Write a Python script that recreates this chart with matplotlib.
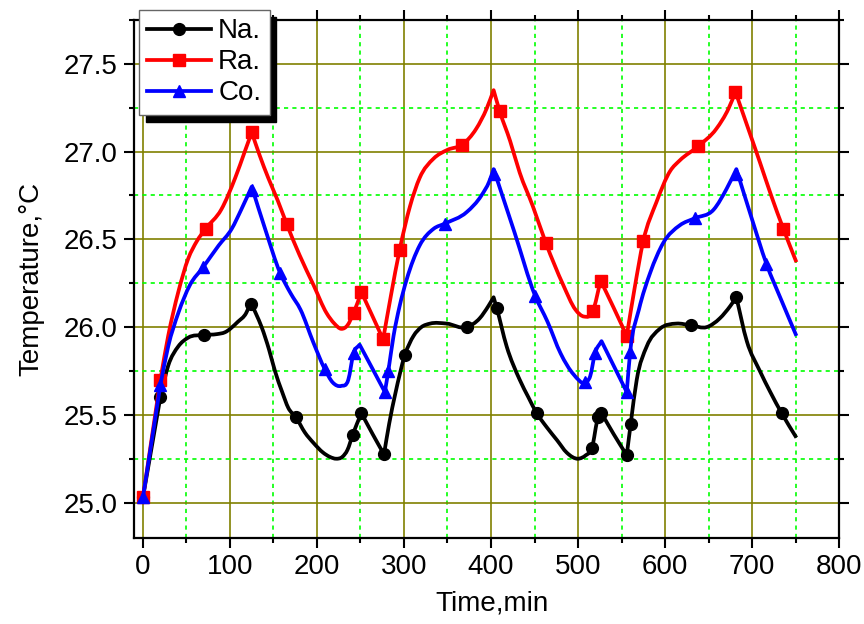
import matplotlib
matplotlib.use("Agg")
import matplotlib.pyplot as plt
from matplotlib.lines import Line2D
from matplotlib.path import Path
from matplotlib.patches import PathPatch
from matplotlib.ticker import MultipleLocator, FormatStrFormatter

plt.rcParams["font.family"] = ["Liberation Sans", "DejaVu Sans"]

# Na. -- traced curve, sharp corners, and the measured points carrying markers
na_t = [0, 20, 29, 40.6, 52, 70, 85, 94, 109, 118.6, 124, 130, 136.4, 145, 151.7, 160, 167,
        176, 186, 196, 207, 215, 222, 229, 235, 241, 246, 251, 264, 277, 283, 290, 301,
        311, 320, 330, 349, 372, 387, 397, 403, 406.5, 418, 433, 443, 452.5, 464, 476, 487,
        500, 509, 516, 523, 527, 541, 556, 560.6, 567.5, 579, 594, 613, 630, 648, 663, 675,
        682, 694, 709, 721, 734, 751]
na_temp = [25.03, 25.60, 25.78, 25.89, 25.94, 25.955, 25.96, 25.97, 26.03, 26.08, 26.14, 26.075,
           26.00, 25.87, 25.75, 25.63, 25.54, 25.485, 25.40, 25.34, 25.285, 25.26, 25.25, 25.26,
           25.30, 25.385, 25.45, 25.51, 25.39, 25.275, 25.45, 25.62, 25.84, 25.95, 26.0, 26.02,
           26.02, 26.0, 26.05, 26.12, 26.17, 26.11, 25.89, 25.70, 25.60, 25.51, 25.43, 25.355,
           25.285, 25.25, 25.27, 25.31, 25.485, 25.51, 25.39, 25.27, 25.45, 25.70, 25.89, 25.99,
           26.02, 26.01, 26.0, 26.05, 26.12, 26.17, 25.92, 25.75, 25.63, 25.51, 25.37]
na_corners = [20, 124, 251, 277, 403, 527, 556, 682]
na_mark_t = [0, 20, 70, 124, 176, 241, 251, 277, 301, 372, 406.5, 452.5, 516, 523, 527,
             556, 560.6, 630, 682, 734]
na_mark_temp = [25.03, 25.60, 25.955, 26.13, 25.485, 25.385, 25.51, 25.275, 25.84, 26.0, 26.11,
                25.51, 25.31, 25.485, 25.51, 25.27, 25.45, 26.01, 26.17, 25.51]

# Ra.
ra_t = [0, 20, 29, 40.6, 52, 62, 72, 90, 106, 117, 125, 134, 144, 155, 165, 180, 196, 211,
        220, 228, 235, 242, 251, 264, 276, 285, 295, 307, 318, 334, 350, 367, 383, 395, 403,
        410, 422, 433, 448, 463, 483, 497, 507, 517, 526, 541, 556, 565, 575, 590, 606, 617,
        638, 659, 673, 681, 695, 709, 722, 736, 751]
ra_temp = [25.03, 25.70, 25.95, 26.20, 26.39, 26.49, 26.56, 26.67, 26.85, 27.0, 27.11, 26.98,
           26.85, 26.72, 26.59, 26.41, 26.24, 26.08, 26.02, 25.99, 26.01, 26.08, 26.20, 26.06,
           25.93, 26.18, 26.44, 26.69, 26.85, 26.96, 27.01, 27.04, 27.13, 27.245, 27.35, 27.23,
           27.06, 26.88, 26.69, 26.48, 26.24, 26.10, 26.06, 26.09, 26.265, 26.11, 25.95, 26.22,
           26.49, 26.71, 26.89, 26.95, 27.03, 27.13, 27.245, 27.34, 27.14, 26.94, 26.75, 26.56,
           26.37]
ra_corners = [20, 125, 251, 276, 403, 526, 556, 681]
ra_mark_t = [0, 20, 72, 125, 165, 242, 251, 276, 295, 367, 410, 463, 517, 526, 556, 575,
             638, 681, 736]
ra_mark_temp = [25.03, 25.70, 26.56, 27.11, 26.59, 26.08, 26.20, 25.93, 26.44, 27.04, 27.23,
                26.48, 26.09, 26.265, 25.95, 26.49, 27.03, 27.34, 26.56]

# Co.
co_t = [0, 20, 29, 40.6, 54, 69, 87, 102, 113, 125, 141, 157.5, 170, 181, 196, 209, 218, 228,
        236, 242, 249, 263, 278, 282, 288, 295, 303, 318, 334, 347, 372, 389, 398, 403, 427,
        450.6, 465, 480, 495, 508, 514, 519.5, 527, 541, 556, 560, 570, 583, 598, 617, 634,
        656, 671, 682, 699, 716.6, 734, 751]
co_temp = [25.03, 25.67, 25.89, 26.08, 26.24, 26.34, 26.465, 26.56, 26.67, 26.80, 26.55, 26.31,
           26.19, 26.10, 25.91, 25.76, 25.685, 25.665, 25.70, 25.85, 25.90, 25.77, 25.63, 25.75,
           25.95, 26.12, 26.27, 26.465, 26.56, 26.59, 26.655, 26.75, 26.83, 26.90, 26.54, 26.18,
           26.03, 25.85, 25.73, 25.685, 25.72, 25.85, 25.92, 25.78, 25.63, 25.86, 26.10, 26.31,
           26.48, 26.58, 26.62, 26.67, 26.79, 26.90, 26.63, 26.36, 26.15, 25.95]
co_corners = [20, 125, 249, 278, 403, 527, 556, 682]
co_mark_t = [0, 20, 69, 125, 157.5, 209, 242, 278, 282, 347, 403, 450.6, 508, 519.5, 556,
             560, 634, 682, 716.6]
co_mark_temp = [25.03, 25.67, 26.34, 26.78, 26.31, 25.76, 25.85, 25.63, 25.75, 26.59, 26.875,
                26.18, 25.685, 25.85, 25.63, 25.86, 26.62, 26.875, 26.36]

series = [
    ("Na.", "black", "o", 8.5, na_t, na_temp, na_corners, na_mark_t, na_mark_temp),
    ("Ra.", "#ff0000", "s", 8.0, ra_t, ra_temp, ra_corners, ra_mark_t, ra_mark_temp),
    ("Co.", "#0000ff", "^", 9.0, co_t, co_temp, co_corners, co_mark_t, co_mark_temp),
]

LINE_W = 2.7


def bezier_curve(t, y, corners):
    """Cubic Bezier path through the traced points; corners keep one-sided slopes."""
    n = len(t)
    sec = [(y[i + 1] - y[i]) / (t[i + 1] - t[i]) for i in range(n - 1)]
    s_in, s_out = [0.0] * n, [0.0] * n
    for i in range(n):
        if i == 0:
            s_in[i] = s_out[i] = sec[0]
        elif i == n - 1:
            s_in[i] = s_out[i] = sec[-1]
        elif t[i] in corners:
            s_in[i], s_out[i] = sec[i - 1], sec[i]
        else:
            h0, h1 = t[i] - t[i - 1], t[i + 1] - t[i]
            s = (sec[i - 1] * h1 + sec[i] * h0) / (h0 + h1)
            s_in[i] = s_out[i] = s
    verts = [(t[0], y[0])]
    codes = [Path.MOVETO]
    for i in range(n - 1):
        h = t[i + 1] - t[i]
        verts += [(t[i] + h / 3, y[i] + s_out[i] * h / 3),
                  (t[i + 1] - h / 3, y[i + 1] - s_in[i + 1] * h / 3),
                  (t[i + 1], y[i + 1])]
        codes += [Path.CURVE4] * 3
    return Path(verts, codes)


fig = plt.figure(figsize=(8.64, 6.24), dpi=100)
ax = fig.add_axes([0.1554, 0.1383, 0.8157, 0.8297])

handles = []
for i, (name, color, marker, ms, t, temp, corners, mt, mtemp) in enumerate(series):
    ax.add_patch(PathPatch(bezier_curve(t, temp, corners), fill=False, edgecolor=color,
                           lw=LINE_W, joinstyle="round", capstyle="butt", zorder=3 + i))
    ax.plot(mt, mtemp, linestyle="none", marker=marker, ms=ms, color=color, zorder=3 + i)
    handles.append(Line2D([], [], color=color, lw=LINE_W, marker=marker, ms=ms, label=name))

ax.set_xlim(-10, 800)
ax.set_ylim(24.80, 27.75)
ax.xaxis.set_major_locator(MultipleLocator(100))
ax.xaxis.set_minor_locator(MultipleLocator(50))
ax.yaxis.set_major_locator(MultipleLocator(0.5))
ax.yaxis.set_minor_locator(MultipleLocator(0.25))
ax.yaxis.set_major_formatter(FormatStrFormatter("%.1f"))

ax.set_axisbelow(True)
ax.grid(which="major", color="#808000", lw=1.2)
ax.grid(which="minor", color="#00ff00", lw=1.2, ls=(0, (2.5, 2.5)))

for side in ax.spines.values():
    side.set_linewidth(1.6)
ax.tick_params(which="both", direction="out", top=True, right=True, width=1.5,
               labelsize=20, pad=5)
ax.tick_params(which="major", length=7)
ax.tick_params(which="minor", length=3.5)

ax.set_xlabel("Time,min", fontsize=20, labelpad=7, x=0.507)
ax.set_ylabel("Temperature,\u00b0C", fontsize=20, labelpad=14)

leg = ax.legend(handles=handles, loc="upper left", bbox_to_anchor=(139 / 864, 1 - 10 / 624),
                bbox_transform=fig.transFigure, borderaxespad=0, fontsize=20,
                handlelength=2.3, handletextpad=0.25, borderpad=0.3, labelspacing=0.18,
                fancybox=False, edgecolor="#666666",
                shadow={"ox": 5, "oy": -5, "color": "black", "alpha": 1})
leg.get_frame().set_linewidth(1.0)
leg.get_frame().set_alpha(1)

fig.savefig("out.png", dpi=100)
